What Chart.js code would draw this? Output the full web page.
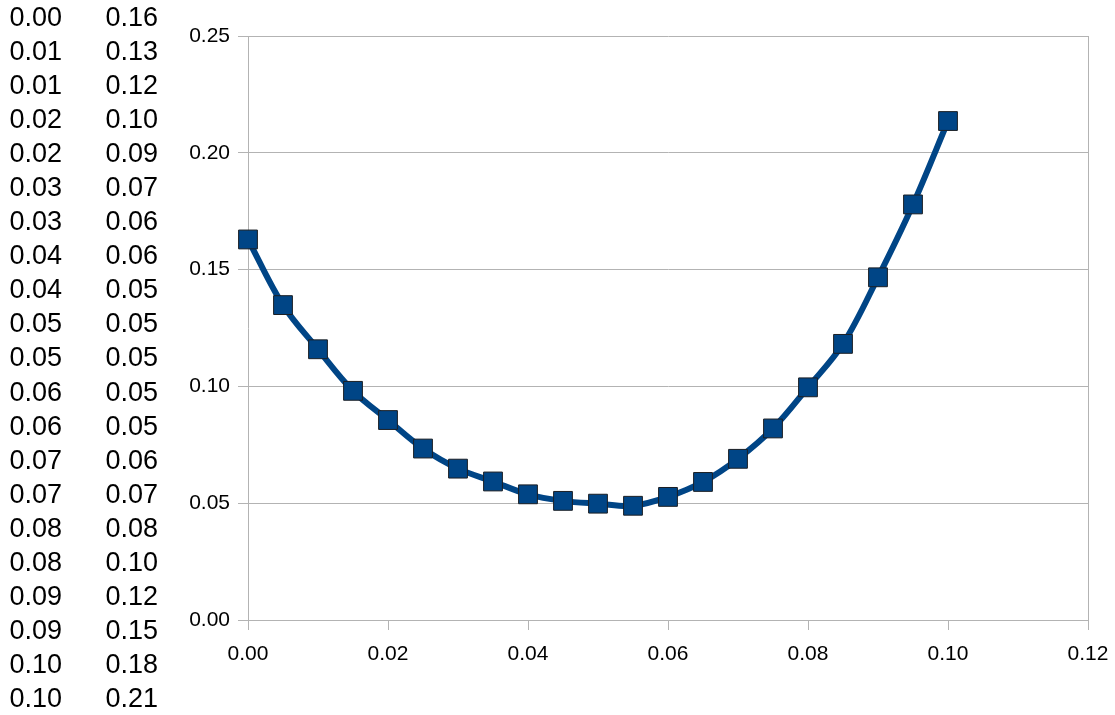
<!DOCTYPE html>
<html>
<head>
<meta charset="utf-8">
<script src="https://cdn.jsdelivr.net/npm/chart.js@4"></script>
<style>
  html, body { margin: 0; padding: 0; background: #fff; }
  #wrap { position: relative; width: 1115px; height: 715px; overflow: hidden; }
  #myChart { position: absolute; left: 0; top: 0; }
  .col { position: absolute; top: 0; font-family: "Liberation Sans", Arial, sans-serif;
         font-size: 27px; line-height: 34.05px; color: #000; }
</style>
</head>
<body>
<div id="wrap">
  <canvas id="myChart" width="1115" height="715"></canvas>
  <div class="col" id="colX" style="left:9.5px"></div>
  <div class="col" id="colY" style="left:105.5px"></div>
</div>
<script>
// 데이터
var xValues = [0.000, 0.005, 0.010, 0.015, 0.020, 0.025, 0.030, 0.035, 0.040, 0.045, 0.050,
               0.055, 0.060, 0.065, 0.070, 0.075, 0.080, 0.085, 0.090, 0.095, 0.100];
var yValues = [0.1629, 0.1348, 0.1159, 0.0981, 0.0856, 0.0734, 0.0648, 0.0593, 0.0538, 0.0510, 0.0498,
               0.0489, 0.0527, 0.0591, 0.0690, 0.0820, 0.0996, 0.1182, 0.1467, 0.1779, 0.2136];
// 왼쪽 표에 보이는 값 (반올림된 그대로)
var tableX = ['0.00', '0.01', '0.01', '0.02', '0.02', '0.03', '0.03', '0.04', '0.04', '0.05', '0.05',
              '0.06', '0.06', '0.07', '0.07', '0.08', '0.08', '0.09', '0.09', '0.10', '0.10'];
var tableY = ['0.16', '0.13', '0.12', '0.10', '0.09', '0.07', '0.06', '0.06', '0.05', '0.05', '0.05',
              '0.05', '0.05', '0.06', '0.07', '0.08', '0.10', '0.12', '0.15', '0.18', '0.21'];

// 표 채우기
document.getElementById('colX').innerHTML = tableX.map(function (t) { return '<div>' + t + '</div>'; }).join('');
document.getElementById('colY').innerHTML = tableY.map(function (t) { return '<div>' + t + '</div>'; }).join('');

var points = xValues.map(function (x, i) { return { x: x, y: yValues[i] }; });
var gridGray = '#b3b3b3';
var tickFont = { family: '"Liberation Sans", Arial, sans-serif', size: 21 };

var ctx = document.getElementById('myChart').getContext('2d');
var myChart = new Chart(ctx, {
    type: 'scatter',
    data: {
        datasets: [{
            data: points,
            showLine: true,
            clip: false,
            tension: 0.35,
            borderColor: '#004586',
            borderWidth: 6,
            pointStyle: 'rect',
            pointRadius: 13.3,
            pointHoverRadius: 13.3,
            pointBackgroundColor: '#004586',
            pointBorderColor: '#1b1f24',
            pointBorderWidth: 1
        }]
    },
    options: {
        responsive: false,
        animation: false,
        layout: { padding: { left: 180, right: 27, top: 36, bottom: 35 } },
        plugins: { legend: { display: false }, tooltip: { enabled: false } },
        scales: {
            x: {
                type: 'linear',
                min: 0,
                max: 0.12,
                afterFit: function (scale) {
                    scale.height = 60;
                    // 마지막 라벨 때문에 생기는 여백 제거
                    scale.paddingLeft = 0;
                    scale.paddingRight = 0;
                },
                ticks: {
                    stepSize: 0.02,
                    color: '#000',
                    font: tickFont,
                    padding: 12,
                    maxRotation: 0,
                    callback: function (v) { return v.toFixed(2); }
                },
                grid: {
                    color: function (c) { return c.tick && Math.abs(c.tick.value - 0.12) < 1e-9 ? gridGray : 'rgba(0,0,0,0)'; },
                    tickColor: gridGray,
                    tickLength: 10,
                    lineWidth: 1
                },
                border: { color: gridGray, width: 1 }
            },
            y: {
                type: 'linear',
                min: 0,
                max: 0.25,
                afterFit: function (scale) { scale.width = 68; },
                ticks: {
                    stepSize: 0.05,
                    color: '#000',
                    font: tickFont,
                    padding: 8,
                    callback: function (v) { return v.toFixed(2); }
                },
                grid: {
                    color: gridGray,
                    tickColor: gridGray,
                    tickLength: 10,
                    lineWidth: 1
                },
                border: { color: gridGray, width: 1 }
            }
        }
    }
});
</script>
</body>
</html>
